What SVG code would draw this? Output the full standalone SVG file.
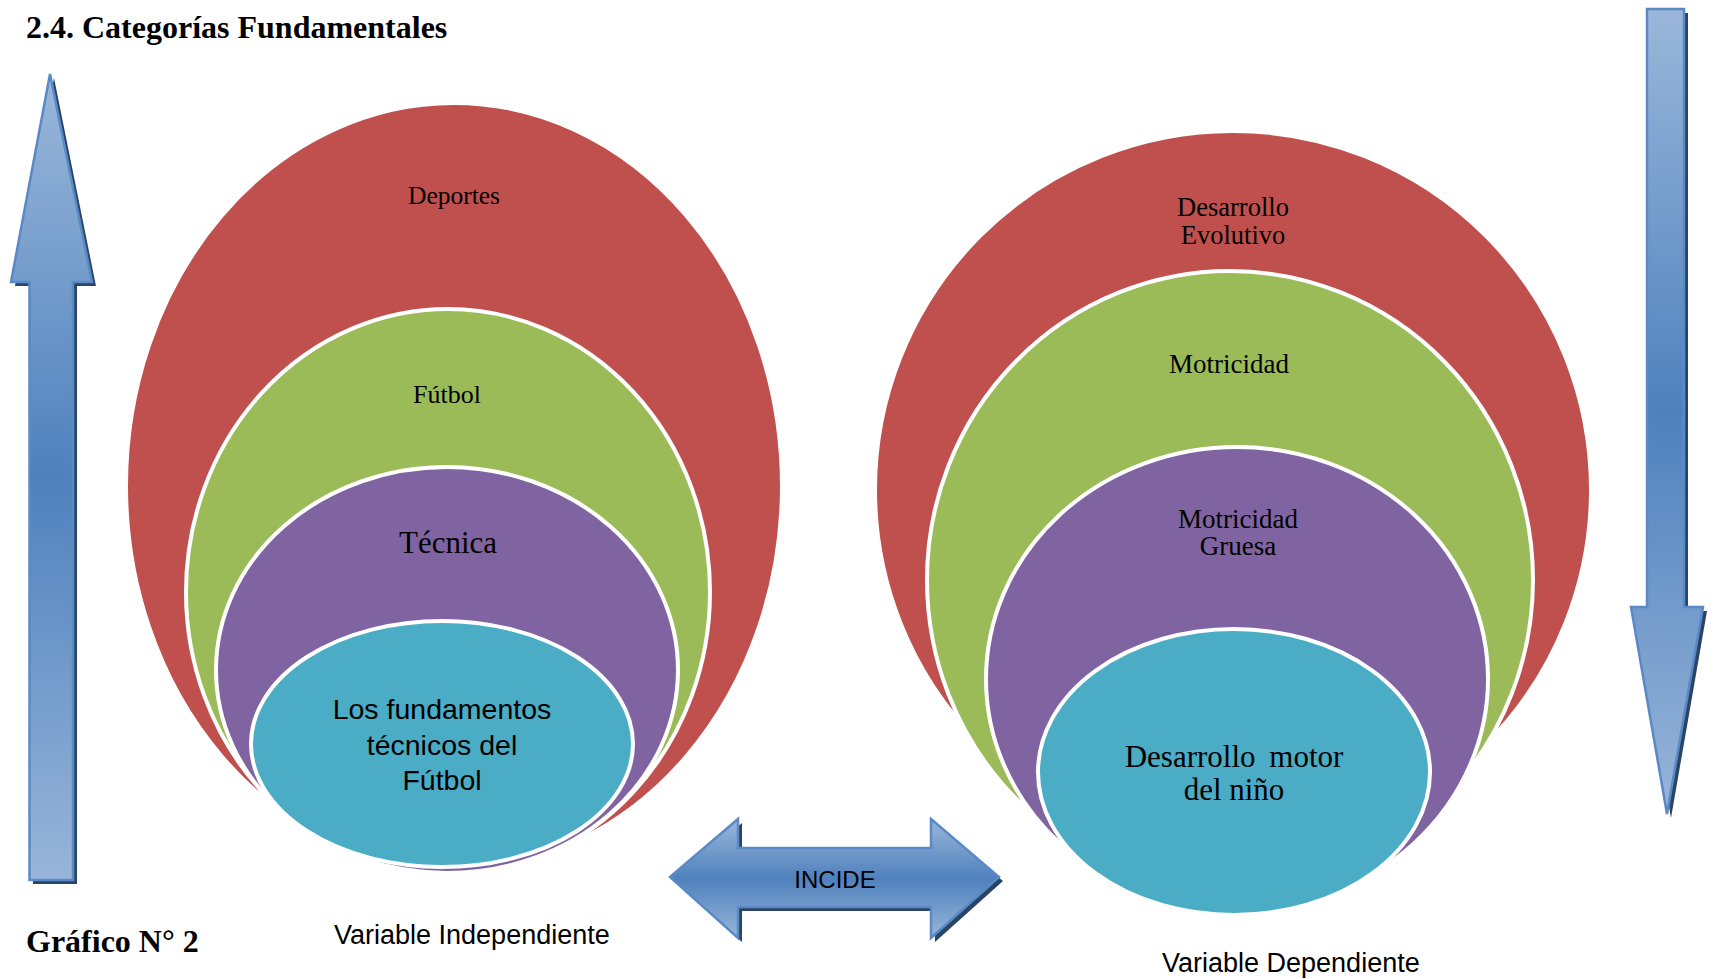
<svg xmlns="http://www.w3.org/2000/svg" width="1714" height="979" viewBox="0 0 1714 979">
<style>
.red{fill:#c0504d;stroke:#fff;stroke-width:4}
.green{fill:#9bbb59;stroke:#fff;stroke-width:4}
.purple{fill:#8064a2;stroke:#fff;stroke-width:4}
.cyan{fill:#4bacc6;stroke:#fff;stroke-width:4}
.serif{font-family:"Liberation Serif","Times New Roman",serif;fill:#000}
.sans{font-family:"Liberation Sans",Arial,sans-serif;fill:#000}
.arrow{stroke:#5a8ac6;stroke-width:2.5;stroke-linejoin:miter}
.shadow{fill:#2a4466}
</style>
<defs>
<linearGradient id="gv" x1="0" y1="0" x2="0" y2="1">
<stop offset="0" stop-color="#9ab7da"/>
<stop offset="0.5" stop-color="#4f81bd"/>
<stop offset="1" stop-color="#98b5d9"/>
</linearGradient>
</defs>
<rect width="1714" height="979" fill="#fff"/>
<text class="serif" x="26" y="38" font-size="32" font-weight="bold">2.4. Categorías Fundamentales</text>
<text class="serif" x="26" y="952" font-size="32" font-weight="bold">Gráfico N° 2</text>

<g id="independiente">
<g id="deportes">
<ellipse class="red" cx="454" cy="486" rx="328" ry="383"/>
<text class="serif" x="454" y="204" font-size="25.5" text-anchor="middle">Deportes</text>
</g>
<g id="futbol">
<ellipse class="green" cx="448" cy="592" rx="262" ry="283"/>
<text class="serif" x="447" y="403" font-size="26" text-anchor="middle">Fútbol</text>
</g>
<g id="tecnica">
<ellipse class="purple" cx="447" cy="670" rx="231" ry="203"/>
<text class="serif" x="448" y="553" font-size="31" text-anchor="middle">Técnica</text>
</g>
<g id="fundamentos">
<ellipse class="cyan" cx="442" cy="744" rx="191" ry="123"/>
<text class="sans" font-size="28.5" text-anchor="middle"><tspan x="442" y="719">Los fundamentos</tspan><tspan x="442" y="755">técnicos del</tspan><tspan x="442" y="790">Fútbol</tspan></text>
</g>
<text class="sans" x="334" y="944" font-size="27">Variable Independiente</text>
</g>

<g id="dependiente">
<g id="evolutivo">
<ellipse class="red" cx="1233" cy="490" rx="358" ry="359"/>
<text class="serif" font-size="26.5" text-anchor="middle"><tspan x="1233" y="216">Desarrollo</tspan><tspan x="1233" y="244">Evolutivo</tspan></text>
</g>
<g id="motricidad">
<ellipse class="green" cx="1230" cy="580" rx="303" ry="309"/>
<text class="serif" x="1229" y="373" font-size="27" text-anchor="middle">Motricidad</text>
</g>
<g id="gruesa">
<ellipse class="purple" cx="1237" cy="679" rx="251" ry="232"/>
<text class="serif" font-size="27" text-anchor="middle"><tspan x="1238" y="528">Motricidad</tspan><tspan x="1238" y="555">Gruesa</tspan></text>
</g>
<g id="motor">
<ellipse class="cyan" cx="1234" cy="772" rx="196" ry="143"/>
<text class="serif" font-size="31" text-anchor="middle"><tspan x="1234" y="767" word-spacing="6">Desarrollo motor</tspan><tspan x="1234" y="800">del niño</tspan></text>
</g>
<text class="sans" x="1162" y="972" font-size="27">Variable Dependiente</text>
</g>

<g id="connectors">
<g id="arrow-up">
<polygon class="shadow" points="54,78 96,286 77,286 77,884 33,884 33,286 15,286"/>
<polygon class="arrow" fill="url(#gv)" points="50,74 92,282 73,282 73,880 29.5,880 29.5,282 11,282"/>
</g>
<g id="arrow-down">
<polygon class="shadow" points="1651,13 1688,13 1688,611 1707,611 1671,818 1635,611 1651,611"/>
<polygon class="arrow" fill="url(#gv)" points="1647,9 1684,9 1684,607 1703,607 1667,814 1631,607 1647,607"/>
</g>
<g id="incide">
<polygon class="shadow" points="674,881 742,823 742,852 935,852 935,823 1003,881 935,942 935,911 742,911 742,942"/>
<polygon class="arrow" fill="url(#gv)" points="670,877 738,819 738,848 931,848 931,819 999,877 931,938 931,907 738,907 738,938"/>
<text class="sans" x="835" y="888" font-size="24" text-anchor="middle">INCIDE</text>
</g>
</g>
</svg>
